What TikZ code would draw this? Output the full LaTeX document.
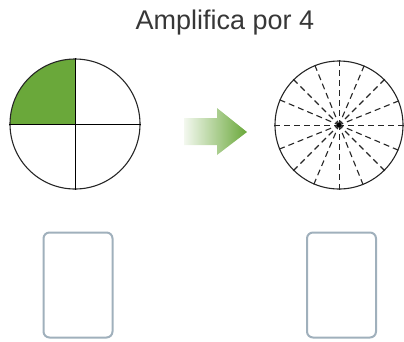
\documentclass[tikz,border=0pt]{standalone}
\usepackage{fontspec}
\setmainfont{Liberation Sans}
\definecolor{leafgreen}{RGB}{106,168,58}
\definecolor{boxgray}{RGB}{160,176,188}
\definecolor{textgray}{RGB}{55,55,55}
\begin{document}
\begin{tikzpicture}[x=1pt,y=-1pt,
  disc/.style={circle,draw=black!85,line width=1.1pt,minimum size=130pt,inner sep=0pt},
  answerbox/.style={draw=boxgray,line width=2pt,rounded corners=6pt,minimum width=69pt,minimum height=105pt,inner sep=0pt},
  ray/.style={line width=1.1pt,black!85,dash pattern=on 6pt off 4pt},
  axisray/.style={line width=0.6pt,black!85,dash pattern=on 6pt off 4pt}]
\useasboundingbox (0,0) rectangle (404,341);
\node[anchor=base,font=\fontsize{27}{30}\selectfont,text=textgray] (title) at (225,29) {Amplifica por 4};
% left circle
\coordinate (lc) at (75,124);
\fill[leafgreen] (lc) -- ++(-65,0) arc[start angle=180,end angle=270,radius=65] -- cycle;
\node[disc,minimum size=130pt] (left) at (lc) {};
\draw[line width=0.6pt] (left.north) -- (left.south) (left.west) -- (left.east);
% arrow
\path[left color=leafgreen!8,right color=leafgreen,shading angle=90]
  (184,118) -- (217,118) -- (217,108) -- (247,132) -- (217,155) -- (217,145) -- (184,145) -- cycle;
% right circle
\coordinate (rc) at (339,125);
\node[disc,minimum size=128pt] (right) at (rc) {};
\foreach \a in {22.5,45,67.5,112.5,135,157.5,202.5,225,247.5,292.5,315,337.5}{
  \draw[ray] (right.\a) -- (rc);
}
\foreach \a in {0,90,180,270}{
  \draw[axisray] (right.\a) -- (rc);
}
\fill (rc) circle (2.2pt);
% boxes
\node[answerbox] (boxL) at (78,285) {};
\node[answerbox] (boxR) at (341.5,285) {};
\end{tikzpicture}
\end{document}
